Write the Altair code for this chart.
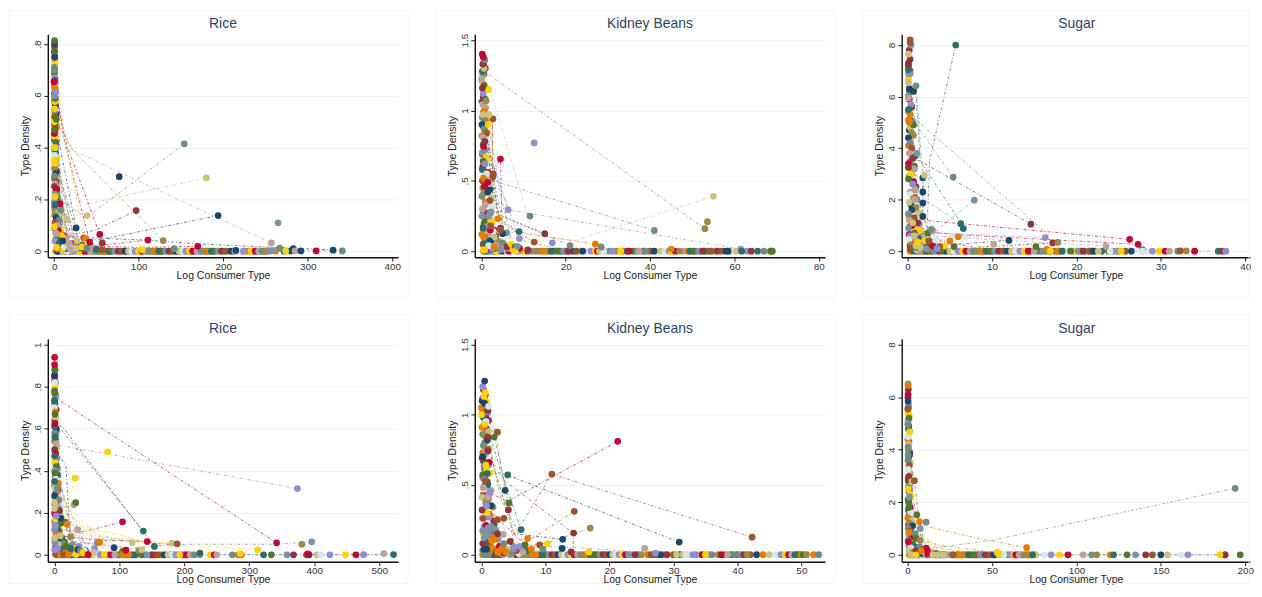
import altair as alt
import pandas as pd

PALETTE = ["#1a476f", "#90353b", "#55752f", "#e37e00", "#6e8e84", "#c10534", "#938dd2", "#cac27e",
           "#a0522d", "#7b92a8", "#2d6d66", "#9c8847", "#bfa19c", "#ffd200", "#d9e6eb"]
NAVY, MAROON, FOREST, ORANGE, TEAL, CRAN, LAV, KHAKI, SIENNA, BLUE, EMER, BROWN, EROSE, GOLD, PALE = range(15)

# ---- Rice, top ----
R1_COL_Y = [.79,.77,.74,.72,.69,.67,.66,.64,.62,.6,.58,.56,.54,.52,.5,.49,.47,.45,.44,.42,.4,.38,.37,.35,.33,.32,.3,.29,.27,.26,.25,.24,.22,.21,.2,.19,.18,.17,.16,.15,.14,.13,.12,.11,.1,.09,.08,.07,.06,.05,.04,.03,.02,.01,.03,.02,.04,.01,.02,.03]
R1_COL_X = [.5,.3,1,.6,.4,1.2,.8,.3,1.1,.6,.2,1.5,.7,.4,1.8,.5,.9,.3,1.2,2,.4,1.5,.6,.9,2.2,.3,1.6,.5,2.5,1,.4,3,1.3,.7,2,.4,3,1.5,.8,4,.5,2.5,6,1,3.5,.7,5,2,9,3,1,6,12,4,16,21,10,26,30,18]
R1_EX_Y = [.7,.68,.65,.63,.61,.59,.57,.55,.53,.51,.49,.48,.46,.43,.41,.39,.36,.34,.31,.28,.26,.23,.21,.19,.18,.16,.15,.13,.12,.1,.09,.08,.07,.06,.05,.05,.04,.04,.03,.03,.02,.02,.02,.01,.01,.01,.01,.02,.03,.01,.02,.01]
R1_EX_X = [.8,.2,1.5,.9,.4,2,1,.5,2.5,1.2,.6,3,1.6,.3,2.6,.9,3.2,1.5,2.8,.6,3.6,1.8,4,.9,3,5,1.5,3.8,2.4,5.5,1,7,3,11,5,14,8,2,12,18,6,23,3,15,28,34,10,31,24,38,44,20]
R1_BASE_X = [2,5,8,11,14,17,20,23,26,29,32,35,38,41,44,47,50,53,56,60,63,66,70,74,78,82,86,90,94,98,102,106,110,114,118,122,126,130,134,138,142,146,150,154,158,162,166,172,176,180,184,188,192,196,200,206,212,216,222,226,230,236,240,244,248,252,4,10,16,24,30,37,43,49,55,58,65,68,72,76,80,84,88,92,96,100,104,108,112,116,120,124,128,132,136,140,144,148,152,156,160,164,169,174,178,182,186,190,194,198,203,209,214,219,224,233,238,242,246,250,262,272]
R1_PTS = [(PALE,20,.01),(KHAKI,26,.012),(EROSE,19,.008),(FOREST,33,.025),(KHAKI,27,.04),(SIENNA,35,.052),(ORANGE,37,.05),(GOLD,33,.017),(GOLD,3,.015),(TEAL,39,.012),(EMER,50,.008),(SIENNA,57,.005),(CRAN,42,.035),(MAROON,57,.032),(CRAN,54,.065),(NAVY,26,.09),(KHAKI,39,.138),(KHAKI,15,.125),(TEAL,8,.158),(CRAN,7,.183),(EROSE,3,.068),(TEAL,.5,.17),(EMER,1,.18),(GOLD,.4,.094),(GOLD,1,.21),(GOLD,.5,.34),(GOLD,.4,.35),(GOLD,1,.4),(CRAN,.3,.455),(FOREST,.3,.47),(GOLD,.2,.5),(FOREST,2.6,.51),(GOLD,.5,.55),(GOLD,1,.578),(FOREST,1,.59),(BLUE,.4,.6),(LAV,2,.615),(ORANGE,.3,.64),(CRAN,-.3,.655),(BLUE,.4,.7),(TEAL,.3,.71),(GOLD,1.3,.74),(SIENNA,.5,.748),(NAVY,.8,.752),(FOREST,.6,.772),(NAVY,.5,.803),(FOREST,.5,.813),
 (TEAL,154,.415),(KHAKI,180,.283),(NAVY,77,.288),(MAROON,97,.157),(NAVY,194,.138),(BLUE,265,.11),(EROSE,257,.032),(BROWN,129,.041),(CRAN,111,.043),(CRAN,170,.019),(TEAL,142,.01),(GOLD,104,.006),(NAVY,215,.003),(NAVY,280,.001),(NAVY,283,.01),(TEAL,267,.012),(BLUE,256,.001),(BLUE,258,.002),(GOLD,274,.001),(EROSE,285,.001),(NAVY,292,.001),(CRAN,310,.001),(NAVY,330,.004),(TEAL,341,.001)]
R1_LINES = [(TEAL,[154,38,6],[.415,.13,.2]),(KHAKI,[180,36,4],[.283,.18,.3]),(MAROON,[97,48,12,2],[.157,.08,.06,.3]),(NAVY,[194,55,15],[.138,.045,.04]),(EROSE,[257,22,2],[.032,.39,.52]),(BROWN,[129,22,2],[.041,.39,.5]),(NAVY,[330,170,110,50,10],[.005,.028,.043,.05,.06]),(CRAN,[54,16,1],[.065,.4,.62]),(CRAN,[42,12,1],[.035,.43,.65]),(GOLD,[36,12,1.5],[.05,.45,.74]),(CRAN,[111,60,15],[.043,.025,.02]),(CRAN,[170,100,40],[.019,.015,.02]),(EMER,[30,8,1],[.03,.28,.56]),(LAV,[25,5,1],[.03,.3,.5]),(NAVY,[26,7,1],[.09,.4,.62]),(TEAL,[18,4,1],[.03,.25,.55]),(BLUE,[16,4,1],[.04,.35,.6]),(SIENNA,[24,6,1],[.05,.3,.45]),(FOREST,[20,5,1],[.02,.2,.51]),(EROSE,[15,3,1],[.07,.3,.4]),(ORANGE,[20,5,1],[.05,.2,.38]),(BROWN,[28,6,1],[.02,.22,.42]),(CRAN,[22,7,1],[.05,.2,.35]),(TEAL,[341,50],[.001,.002]),(GOLD,[14,5,1],[.02,.3,.6]),(KHAKI,[19,6,1],[.03,.15,.3]),(LAV,[12,4,1],[.02,.2,.44]),(BLUE,[28,9,2],[.02,.12,.25]),(EMER,[11,3,1],[.02,.4,.7])]

# ---- Kidney beans, top ----
K1_COL_Y = [1.33,1.3,1.25,1.22,1.18,1.12,1.08,1.04,1,.97,.93,.9,.87,.84,.81,.78,.74,.7,.67,.64,.62,.58,.55,.52,.48,.45,.42,.39,.36,.33,.3,.27,.25,.22,.2,.18,.16,.14,.12,.1,.09,.07,.06,.05,.04,.03,.02,.01,.05,.03,.02,.06,.04,.03]
K1_COL_X = [.5,.9,.3,.1,.6,.4,.9,.2,.7,.4,1,.1,.6,1.2,.3,.8,.5,.2,1.1,.4,.8,.2,1.2,.5,1.8,.3,1.5,.1,2,.9,.3,1.5,.1,2.2,.6,1.5,.4,2.8,.1,3,1,2,5,.4,3.5,6,1.2,4.5,7,8,2.5,.7,1.7,3]
K1_EX_Y = [1.26,1.2,1.15,1.1,1.06,1.02,.99,.95,.92,.89,.85,.82,.79,.76,.72,.69,.65,.63,.6,.56,.53,.5,.47,.44,.41,.38,.35,.32,.29,.26,.23,.21,.19,.17,.15,.13,.11,.1,.08,.07,.05,.04,.03,.02,.02,.01,.01,.03,.02,.01]
K1_EX_X = [.6,.2,.8,.4,.1,1,.5,.2,.9,.3,.7,.1,1.1,.4,.9,.2,1.3,.6,.3,1.5,.8,.2,1,2,.5,2.3,.9,2.6,.4,1.8,.9,2.5,1.2,.4,3,1.7,3.4,.8,2.4,4,1.5,.5,5.5,3,6.5,2,7.5,4,9,11]
K1_BASE_X = [.5,1,1.5,2,3,4,5,6,7.5,8.5,10,11,12.5,14,15.5,16,17,18,19,20,21,22,23.5,25,26,27,27.5,29.5,30.5,32,33.5,34.5,36,37,38.5,40,41,42.5,43.5,44.5,45,46,48,50,51,52,53,54,55.5,56,57,58,59,60,2.5,3.5,6.5,9,11.5,13,14.5,16.5,18.5,19.5,20.5,22.5,24,28,29,31,33,35,37.5,39,47,49,49.5,50.5,51.5,52.5,54.5,58.5,60.5,62.5,63]
K1_PTS = [(GOLD,.5,.01),(GOLD,.8,.01),(GOLD,8,.002),(BLUE,2,.27),(BLUE,1.7,.25),(BLUE,2.2,.28),(EROSE,.3,.3),(BLUE,6,.13),(BLUE,8.5,.035),(NAVY,5,.125),(MAROON,4.5,.165),(SIENNA,4.5,.15),(ORANGE,3.9,.23),(CRAN,2.1,.15),(SIENNA,2.2,.18),(ORANGE,.5,.1),(EMER,8.9,.14),(LAV,9,.09),(LAV,16.8,.06),(SIENNA,12.5,.065),(MAROON,15,.125),(ORANGE,27,.05),(TEAL,21,.04),(TEAL,28.4,.03),(ORANGE,45,.015),(LAV,61.5,.015),(LAV,6.3,.295),(TEAL,11.5,.25),(CRAN,1.5,.49),(CRAN,.7,.46),(SIENNA,2.8,.55),(SIENNA,2.7,.53),(CRAN,4.5,.655),(LAV,12.5,.77),(SIENNA,2.7,.94),(GOLD,1.6,.9),(KHAKI,1.8,.97),(EROSE,.4,1.04),(BROWN,1.1,1.07),(GOLD,1.7,1.15),(MAROON,.2,1.16),(EROSE,0,1.22),(EMER,.2,1.28),(KHAKI,.6,1.3),(MAROON,.3,1.33),(TEAL,.8,1.36),(CRAN,.4,1.38),(CRAN,.2,1.4),
 (TEAL,41,.148),(BROWN,53,.16),(BROWN,53.6,.21),(KHAKI,55,.39),(EMER,61.7,0),(EMER,65.5,0),(MAROON,64,0),(TEAL,67,0),(BROWN,68.5,0),(FOREST,69,0),(FOREST,68.7,0)]
K1_LINES = [(KHAKI,[55,22,3],[.39,.075,.15]),(BROWN,[53,2,.5],[.16,1.25,1.28]),(TEAL,[41,4,1],[.148,.49,.55]),(LAV,[61.5,6.3,2],[.015,.295,.68]),(KHAKI,[11.5,2,1],[.2,1.15,1.2]),(ORANGE,[27,8,2],[.05,.14,.17]),(TEAL,[21,4,1],[.04,.26,.9]),(MAROON,[15,4,1],[.125,.26,.6]),(SIENNA,[2.8,2.6,2.6],[.2,.94,.55]),(CRAN,[5,4.5,1.5],[.05,.655,.5]),(LAV,[9,4,1],[.09,.5,1]),(EMER,[9,3,1],[.14,.25,.9]),(GOLD,[4,2,1],[.1,.9,1.1]),(NAVY,[5,2,1],[.1,.6,1.05]),(FOREST,[6,3,1],[.05,.5,.95]),(BLUE,[7,2,.5],[.1,.7,1.2]),(BROWN,[68,20],[.001,.001]),(ORANGE,[18,6,1.5],[.02,.1,.2]),(SIENNA,[12.5,5,1],[.065,.2,.4])]

# ---- Sugar, top ----
S1_COL_Y = [7.8,7.2,6.9,6.4,6,5.7,5.5,5.3,5.1,4.8,4.6,4.4,4.2,4,3.8,3.6,3.4,3.2,3,2.8,2.6,2.4,2.2,2.05,1.9,1.7,1.6,1.45,1.3,1.2,1.1,1,.9,.8,.7,.6,.5,.45,.4,.3,.25,.2,.15,.1,.05,.3,.2,.1,.4,.15,.25,.1]
S1_COL_X = [.2,.1,.3,.2,.1,.4,.2,.5,.1,.3,.5,.1,.3,.5,.2,.6,.1,.8,.4,.1,.6,.9,.3,.7,.2,1,.5,.1,.8,.2,1.2,.5,.1,1.5,.8,.3,1.3,.2,1,1.7,.4,2.2,.7,.3,1.4,2.6,3,2.2,2,1,1.5,3.4]
S1_EX_Y = [7,6.7,6.3,5.9,5.6,5.4,5.2,5,4.7,4.5,4.3,4.1,3.9,3.7,3.5,3.3,3.1,2.9,2.7,2.5,2.3,2.1,2,1.8,1.65,1.5,1.35,1.25,1.15,1.05,.95,.85,.75,.65,.55,.5,.35,.3,.22,.18,.12,.08,.05,.15,.1,.06,.2,.12]
S1_EX_X = [.3,.1,.4,.2,.5,.1,.4,.6,.2,.7,.3,.1,.6,.9,.3,.8,.5,.2,.7,1,.3,.8,1.1,.4,.9,1.3,.2,1,.6,1.4,.3,1,1.6,.2,.6,1.9,.9,1.3,.3,1.9,.8,2.4,1.2,2.8,3.6,4,4.4,3]
S1_BASE_X = [.3,.7,1.1,1.5,2,2.5,3,3.4,3.9,4.3,4.8,5.2,5.8,6.2,6.7,7.1,7.6,8,8.5,9,9.5,10,10.5,11,11.5,12,12.5,13,13.5,14,14.5,15.2,15.7,16,16.8,17.5,18,18.5,19,19.6,20,20.5,21,21.4,21.8,22.2,23,23.8,24.3,25,25.8,26.5,27.8,28.3,29,29.8,30.5,31,32,1.3,1.8,2.2,2.8,3.2,3.7,4.1,4.6,5,5.5,6,6.5,6.9,7.4,7.8,8.3,8.8,9.3,9.8,10.3,10.8,11.3,11.8,12.3,12.8,13.3,13.8,14.3,15,16.3,17,17.8,18.3,19.3,20.2,20.8,21.6,22,22.6,24,24.8,25.3]
S1_PTS = [(KHAKI,.8,.6),(KHAKI,1,.2),(KHAKI,1.5,.16),(KHAKI,.6,1.1),(GOLD,1.2,.35),(SIENNA,2.5,.4),(FOREST,2.4,.7),(SIENNA,3.8,.18),(FOREST,5.5,.18),(LAV,3.5,.1),(PALE,3.4,.45),(PALE,5.4,.58),(PALE,6.9,.55),(ORANGE,5,.4),(ORANGE,6,.56),(EROSE,3,.78),(TEAL,2.8,.85),(NAVY,1.8,1.35),(NAVY,1.8,1.87),(NAVY,1.8,2.3),(NAVY,1.8,2.85),(KHAKI,2,2.95),(EROSE,.9,2.4),(EROSE,.9,2),(EROSE,.7,3.2),(MAROON,.1,3.25),(BLUE,1.1,3.8),(FOREST,.7,4.9),(ORANGE,.2,5),(ORANGE,.3,5.3),(EMER,.1,5.5),(EROSE,.1,5.95),(TEAL,.2,6.2),(NAVY,.7,6.2),(NAVY,.2,6.3),(TEAL,1,6.42),(KHAKI,.1,6.55),(LAV,.1,6.9),(EMER,.1,7.05),(MAROON,.1,7.3),(MAROON,.3,7.45),(KHAKI,.1,7.65),(BLUE,.4,8),(SIENNA,.3,8.1),(SIENNA,.3,8.2),
 (EMER,5.7,8),(TEAL,5.4,2.88),(BLUE,7.9,1.98),(EMER,6.3,1.07),(EMER,6.6,.88),(MAROON,14.6,1.05),(LAV,16.3,.53),(CRAN,26.3,.46),(CRAN,27.3,.27),(MAROON,17.2,.32),(BROWN,17.8,.34),(NAVY,12,.42),(EROSE,10.2,.28),(EROSE,23.5,.2),(FOREST,15.2,.18),(ORANGE,16.5,.07),(NAVY,27.8,.05),(GOLD,16.9,.01),(PALE,27.8,.01),(BROWN,33,.01),(CRAN,34,0),(SIENNA,32.3,.01),(EMER,36.8,0),(MAROON,37.3,0),(LAV,37.7,0)]
S1_LINES = [(EMER,[5.7,2.6,2.3],[8,3.5,.7]),(BROWN,[16.8,1,.4],[.6,5.1,5.3]),(MAROON,[14.6,1.5,.4],[1.05,3.5,3.6]),(TEAL,[5.4,1,.5],[2.88,4.9,5.8]),(EMER,[6.5,1.5,1],[1,3.5,6]),(TEAL,[6.3,2,1],[1.07,2,6.4]),(BLUE,[7.9,3,1],[1.98,.7,.6]),(CRAN,[26.3,2,.6],[.46,1.2,1.3]),(CRAN,[27.3,8,2],[.27,.6,.75]),(LAV,[16.3,4,1],[.53,.7,.8]),(EROSE,[23.5,10,3],[.2,.45,.6]),(NAVY,[12,5,1.5],[.42,.25,.4]),(MAROON,[17.2,8,2],[.32,.15,.5]),(NAVY,[1.8,1.8,1.8,1.8],[2.85,2.3,1.87,1.35]),(ORANGE,[5,2,.8],[.4,.5,1]),(FOREST,[3,1.2,.6],[.2,2,4.8]),(GOLD,[2,.9,.3],[.3,2,4.5]),(EROSE,[5,1.8,.7],[.3,1.4,3.1]),(SIENNA,[4,1.5,.4],[.2,1,4.3]),(LAV,[37.7,20],[.001,.001])]

# ---- Rice, bottom ----
R2_COL_Y = [.88,.85,.82,.8,.78,.75,.72,.7,.68,.65,.62,.6,.58,.55,.53,.5,.48,.46,.44,.42,.4,.38,.36,.34,.32,.3,.28,.26,.25,.23,.21,.2,.18,.17,.15,.14,.12,.11,.1,.09,.07,.06,.05,.04,.03,.02,.01,.05,.03,.02,.04,.03,.02,.01,.05]
R2_COL_X = [1,.5,2,1,.4,2,1,.3,1.5,2.4,.8,3,.5,1.8,3,.6,2,4,1,3,.5,5,2,6,1,4,.4,7,2,3,8,.5,5,2,10,1,6,.4,3,9,1,6,14,2,20,9,4,28,33,24,38,12,46,17,6]
R2_EX_Y = [.83,.79,.76,.73,.69,.66,.64,.59,.57,.54,.51,.49,.45,.43,.41,.37,.35,.33,.31,.29,.27,.24,.22,.19,.16,.13,.11,.09,.08,.07,.06,.05,.04,.04,.03,.03,.02,.02,.02,.01,.01,.01,.01,.02,.03]
R2_EX_X = [.5,1.2,2.5,.6,3,1.5,.8,3.5,1.5,.5,4,1,.6,2.5,5,1.2,3,.5,5.5,1.6,3.6,.7,6,1.6,.6,4,8,2,12,5,16,8,20,3,13,28,7,18,32,9,26,42,55,48,62]
R2_BASE_X = [3,8,13,18,25,30,36,42,50,56,62,68,74,80,84,90,96,100,106,112,118,122,128,132,140,146,150,156,162,166,172,178,184,190,196,200,206,212,218,224,240,246,250,274,283,288,322,334,358,368,388,392,404,410,424,448,464,476,5,10,15,22,27,33,39,45,53,59,65,71,77,87,93,103,109,115,125,135,143,153,159,169,175,181,187,193,203,209,215]
R2_PTS = [(SIENNA,2,.003),(ORANGE,10,.001),(SIENNA,14,.001),(ORANGE,22,.002),(GOLD,34,.003),(NAVY,36,.025),(FOREST,18,.04),(EMER,25,.03),(TEAL,40,.02),(GOLD,44,.01),(BLUE,66,.058),(BROWN,68,.06),(ORANGE,70,.06),(KHAKI,60,.01),(NAVY,92,.034),(FOREST,105,.016),(ORANGE,105,.002),(CRAN,110,.022),(BROWN,130,.02),(KHAKI,135,.025),(CRAN,52,.001),(LAV,5,.03),(LAV,3,.025),(LAV,.5,.025),(BLUE,1,.06),(KHAKI,.5,.08),(BLUE,.5,.12),(LAV,1.5,.135),(FOREST,17,.155),(ORANGE,20,.145),(NAVY,10,.175),(LAV,3,.185),(BROWN,25,.085),(EROSE,36,.12),(TEAL,5,.32),(EROSE,30,.238),(FOREST,33,.248),(GOLD,32,.365),(KHAKI,.5,.22),(KHAKI,.5,.25),(EMER,.5,.47),(FOREST,1,.39),(EMER,.4,.35),(EMER,1,.56),(EMER,.5,.61),(CRAN,1,.625),(FOREST,1,.67),(EMER,.3,.735),(FOREST,.5,.77),(PALE,.5,.82),(NAVY,.5,.855),(FOREST,1,.88),(CRAN,.5,.905),(CRAN,.5,.94),
 (GOLD,82,.49),(LAV,374,.315),(CRAN,105,.157),(EMER,137,.113),(CRAN,143,.063),(EMER,154,.04),(KHAKI,120,.058),(KHAKI,181,.055),(SIENNA,189,.052),(CRAN,342,.057),(BROWN,381,.05),(BLUE,396,.062),(GOLD,313,.024),(GOLD,286,.006),(CRAN,390,.004),(EMER,224,.008),(EROSE,507,.006),(EMER,522,.001),(LAV,476,.001)]
R2_LINES = [(CRAN,[342,10,2],[.057,.73,.76]),(LAV,[374,82,8],[.315,.48,.52]),(EMER,[137,15,2],[.113,.58,.62]),(CRAN,[154,15,2],[.04,.6,.63]),(GOLD,[313,150,40],[.024,.055,.14]),(BLUE,[396,342,180,60],[.062,.05,.05,.08]),(CRAN,[105,45,10],[.157,.11,.12]),(NAVY,[25,18,3],[.03,.42,.5]),(GOLD,[32,10,2],[.365,.1,.5]),(EROSE,[30,12,2],[.04,.3,.6]),(KHAKI,[120,50,12],[.058,.11,.16]),(CRAN,[143,70,10],[.063,.07,.09]),(GOLD,[181,90,20],[.055,.08,.11]),(KHAKI,[90,30,5],[.03,.2,.3]),(BROWN,[50,18,3],[.03,.25,.4]),(TEAL,[40,12,2],[.02,.2,.45]),(FOREST,[35,10,1],[.02,.2,.35]),(ORANGE,[60,20,3],[.03,.12,.2]),(SIENNA,[189,120,40],[.052,.03,.06]),(EROSE,[45,15,3],[.05,.22,.55]),(EMER,[522,60],[.001,.001]),(LAV,[48,14,2],[.03,.17,.5]),(BLUE,[70,25,4],[.02,.15,.4]),(GOLD,[75,22,3],[.03,.2,.28])]

# ---- Kidney beans, bottom ----
K2_COL_Y = [1.18,1.14,1.12,1.09,1.05,1.02,.98,.95,.91,.88,.85,.82,.78,.75,.72,.69,.66,.63,.6,.57,.54,.5,.47,.44,.41,.38,.35,.32,.29,.26,.24,.21,.18,.15,.13,.11,.09,.07,.05,.04,.03,.02,.01,.03,.02,.01,.06,.04]
K2_COL_X = [.3,.6,.2,.8,.5,1,.3,.7,.1,1.1,.5,.9,.3,1,.6,.1,1.2,.4,.8,.2,.6,1,.3,1.3,.1,.7,1.5,.3,1.1,.1,1.9,.7,2.2,.3,1.4,2.6,.5,3.2,1.6,4,.2,2.4,4.8,5.5,6.5,3.5,2.8,5]
K2_EX_Y = [1.1,1.07,1.03,1,.96,.93,.9,.86,.83,.8,.76,.73,.7,.67,.64,.61,.58,.55,.52,.49,.46,.43,.4,.37,.34,.31,.28,.25,.22,.2,.17,.14,.12,.1,.08,.06,.05,.04,.03,.02,.02,.01,.01,.03,.05]
K2_EX_X = [.5,.9,.2,.7,1.1,.4,.8,.2,1,.5,1.2,.2,.7,.3,1.1,.5,1.3,.2,.9,.5,1.5,.3,1.1,.7,1.8,.5,1.4,.8,2,.4,1.7,1,2.4,.6,1.3,2.9,.9,2.1,3.4,1.3,4.2,2.9,5.8,7,6]
K2_BASE_X = [.2,.5,1,1.5,2,2.5,3,3.5,4,4.5,5,5.5,6,7,7.5,8,9,10,10.5,11,11.5,12,12.5,13,13.5,14,14.5,15,15.5,16,16.5,17,18,18.5,19,19.5,20,20.5,21,21.5,22,22.5,23.5,24.5,25,26,27,27.5,28.5,29,30,31,31.5,32.5,33,34,34.5,35.5,36,37,38,39,40,40.5,41,42,43,45,46,46.8,47.5,48,48.5,49.3,6.5,8.5,9.5,17.5,23,24,26.5,28,30.5,32,33.5,35,37.5,38.5,39.5,41.5,44,49,49.7]
K2_PTS = [(BLUE,.5,.0),(TEAL,.4,.0),(NAVY,.4,.04),(NAVY,.8,.04),(ORANGE,2.5,.02),(ORANGE,3.3,.05),(ORANGE,2.8,.03),(ORANGE,3.8,.02),(MAROON,.2,.08),(BLUE,.8,.15),(BLUE,1.2,.17),(BLUE,1,.19),(BLUE,1.5,.2),(BLUE,.4,.12),(BLUE,1.3,.13),(BLUE,.2,.17),(ORANGE,1.6,.1),(ORANGE,1.8,.12),(ORANGE,2.2,.11),(LAV,5,.06),(LAV,6,.06),(TEAL,3.5,.08),(EROSE,3.4,.145),(MAROON,2.5,.15),(SIENNA,2.5,.25),(SIENNA,.3,.26),(LAV,1.2,.27),(GOLD,.9,.3),(MAROON,.1,.32),(LAV,.8,.35),(EROSE,1,.41),(LAV,1.3,.45),(EROSE,.3,.48),(SIENNA,.6,.53),(EMER,.9,.58),(GOLD,.7,.64),(NAVY,.2,.7),(MAROON,1,.74),(GOLD,.5,.93),(MAROON,1,.84),(GOLD,0,1),(ORANGE,0,1.05),(MAROON,1,1.03),(NAVY,.5,1.08),(NAVY,.1,1.1),(PALE,1.1,1.06),(GOLD,.4,1.13),(GOLD,.6,1.16),(LAV,.2,1.2),(NAVY,.5,1.24),
 (SIENNA,2.5,.875),(FOREST,2,.84),(CRAN,21.3,.81),(SIENNA,11,.575),(EMER,4.1,.57),(NAVY,3.7,.46),(FOREST,4.3,.37),(MAROON,4.2,.32),(SIENNA,14.5,.31),(SIENNA,3.5,.26),(BROWN,17,.19),(MAROON,14.4,.155),(EMER,6.2,.18),(ORANGE,7.2,.115),(NAVY,12.7,.11),(NAVY,12.6,.045),(MAROON,4.5,.095),(FOREST,6.8,.07),(SIENNA,9.1,.07),(NAVY,30.9,.09),(SIENNA,42.3,.125),(EROSE,25.5,.045),(GOLD,10.3,.08),(TEAL,9.6,.04),(ORANGE,7.8,.04),(GOLD,16.8,.02),(LAV,27.2,.012),(MAROON,14,.02),(ORANGE,50,0),(ORANGE,51.9,0),(FOREST,50.3,0),(BROWN,50.8,0),(TEAL,52.7,0)]
K2_LINES = [(CRAN,[21.3,4,1],[.81,.38,.45]),(SIENNA,[42.3,11,6,3],[.125,.575,.2,.05]),(NAVY,[30.9,4,1.5],[.09,.57,.6]),(SIENNA,[14.5,6,2],[.31,.06,.1]),(BROWN,[17,10,4],[.19,.08,.06]),(LAV,[27.2,15,5],[.012,.05,.07]),(EMER,[6.2,3,1],[.18,.6,.9]),(FOREST,[4.3,2,1],[.37,.85,1]),(NAVY,[12.7,5,1.5],[.11,.15,.7]),(MAROON,[14.4,14.3,3],[.02,.155,.55]),(BROWN,[5,2.2,1],[.1,.87,1.05]),(KHAKI,[6,2,.5],[.05,.6,1]),(TEAL,[7,3,1],[.05,.4,.85]),(EROSE,[5,2,.5],[.08,.3,.5]),(GOLD,[6,1.8,.6],[.03,.6,.93]),(CRAN,[8,1.6,.3],[.02,.3,.6]),(TEAL,[52.7,20],[.001,.001])]

# ---- Sugar, bottom ----
S2_COL_Y = [6.3,6,5.7,5.4,5.2,5,4.8,4.6,4.4,4.2,4,3.8,3.6,3.4,3.1,2.9,2.7,2.6,2.3,2.1,1.9,1.7,1.6,1.4,1.3,1.2,1.1,1,.9,.8,.7,.65,.55,.45,.4,.35,.3,.25,.2,.15,.1,.05,.3,.2,.1,.15,.05]
S2_COL_X = [.4,.2,.6,.3,.8,.2,.5,.9,.2,.7,.4,1.2,.3,1,1.6,.4,1.2,.6,1.5,.3,1,.5,1.8,.2,2.5,1.2,3,.4,1.5,.6,2.6,4,.3,1.5,3,.8,4.5,2,6,.7,3.5,8,7,9,10,5,12]
S2_EX_Y = [5.6,5.3,5.1,4.9,4.7,4.5,4.3,4.1,3.9,3.7,3.5,3.3,3,2.8,2.5,2.4,2.2,2,1.8,1.5,1.35,1.15,.95,.75,.6,.5,.4,.3,.22,.18,.12,.08,.05,.25,.15,.1,.05]
S2_EX_X = [.5,1,.3,.7,1.1,.3,.8,.4,1.2,.6,1.6,.4,1,.5,1.4,.8,2,.6,1.6,.9,2.2,.5,1.8,1,3.2,1.6,2.2,.6,5,1.4,4,8,2.6,11,6,14,17]
S2_BASE_X = [1,2,3,4,5,6,7,8,9,10,11,12,13,14,15,16,17,18,19,20,21,22,24,25,27,28,30,32,33,34,35,37,38,40,41,42,44,45,47,48,50,52,56,59,60,62,65,67,68,71,72,75,76,81,85,90,95,104,109,112,120,122,130,135,141,145,150,154,162,166,185,188,23,26,29,31,36,39,43,46,49,51,54,57,61,63,64,66,69,70,73,74]
S2_PTS = [(KHAKI,2,0),(GOLD,5,0),(KHAKI,15,0),(KHAKI,18,0),(KHAKI,21,0),(SIENNA,27,0),(CRAN,.5,.5),(ORANGE,1,.85),(FOREST,.7,1.8),(FOREST,.7,2),(BLUE,1,2.2),(GOLD,.3,2.5),(TEAL,4.5,.8),(FOREST,5,.62),(BROWN,7.5,.55),(CRAN,11.5,.2),(ORANGE,8,.15),(BLUE,7.5,1),(MAROON,.7,2.97),(PALE,.3,3.25),(KHAKI,2.5,2.78),(SIENNA,4,2.82),(TEAL,.3,3.8),(TEAL,.3,4.1),(PALE,.3,4.5),(GOLD,1.2,4.68),(TEAL,.3,4.95),(SIENNA,.1,5.55),(NAVY,.3,5.85),(CRAN,.3,6.1),(BLUE,.3,6.5),(ORANGE,.3,6.45),
 (TEAL,194,2.53),(ORANGE,70.5,.27),(TEAL,11,1.24),(FOREST,5.5,1.52),(ORANGE,7,1.26),(GOLD,53,.1),(GOLD,54,.05),(MAROON,188,0),(FOREST,197,0),(GOLD,185,0)]
S2_LINES = [(TEAL,[194,50,8],[2.53,.55,.2]),(ORANGE,[70.5,40,10],[.27,.65,1.1]),(BROWN,[50,20,7],[.1,.35,.55]),(GOLD,[45,18,5],[.05,.25,.8]),(GOLD,[35,15,4],[.08,.3,1.3]),(KHAKI,[25,8,3],[.1,.7,1.5]),(FOREST,[12,5,1.5],[.1,1.52,3]),(SIENNA,[9,4,1],[.1,2.82,3.5]),(GOLD,[5,2,1],[.1,2,4.5]),(BLUE,[7.5,2,.5],[1,2,5]),(EROSE,[10,3,1],[.1,1.5,3.6]),(MAROON,[188,30],[.001,.001])]

PANELS = [
 ("Rice", R1_COL_X, R1_COL_Y, R1_EX_X, R1_EX_Y, R1_BASE_X, R1_PTS, R1_LINES, (-7.5,407), (-.023,.838), [0,100,200,300,400], [0,.2,.4,.6,.8], 352),
 ("Kidney Beans", K1_COL_X, K1_COL_Y, K1_EX_X, K1_EX_Y, K1_BASE_X, K1_PTS, K1_LINES, (-1.6,81.5), (-.0425,1.542), [0,20,40,60,80], [0,.5,1,1.5], 352),
 ("Sugar", S1_COL_X, S1_COL_Y, S1_EX_X, S1_EX_Y, S1_BASE_X, S1_PTS, S1_LINES, (-.7,40.56), (-.232,8.42), [0,10,20,30,40], [0,2,4,6,8], 350),
 ("Rice", R2_COL_X, R2_COL_Y, R2_EX_X, R2_EX_Y, R2_BASE_X, R2_PTS, R2_LINES, (-10,529), (-.033,1.028), [0,100,200,300,400,500], [0,.2,.4,.6,.8,1], 352),
 ("Kidney Beans", K2_COL_X, K2_COL_Y, K2_EX_X, K2_EX_Y, K2_BASE_X, K2_PTS, K2_LINES, (-1.05,53.7), (-.05,1.542), [0,10,20,30,40,50], [0,.5,1,1.5], 352),
 ("Sugar", S2_COL_X, S2_COL_Y, S2_EX_X, S2_EX_Y, S2_BASE_X, S2_PTS, S2_LINES, (-3.5,202.8), (-.265,8.22), [0,50,100,150,200], [0,2,4,6,8], 350),
]

FONT = "Liberation Sans"
NAMES = [f"c{i:02d}" for i in range(15)]
COLOR = dict(scale=alt.Scale(domain=NAMES, range=PALETTE), legend=None)
LABEL = "replace(format(datum.value, '~g'), /^0\\./, '.')"
H = 224

def panel(p, frame_right, frame_bottom):
    title, cx, cy, ex, ey, bx, pts, lines, xd, yd, xt, yt, w = p
    rows = []
    for i, x in enumerate(bx):
        rows.append({"x": x, "y": 0, "c": NAMES[(i * 7 + 3) % 15]})
    for i, (x, y) in enumerate(zip(ex, ey)):
        rows.append({"x": x, "y": y, "c": NAMES[(i * 11 + 2) % 15]})
    for i, (x, y) in enumerate(zip(cx, cy)):
        rows.append({"x": x, "y": y, "c": NAMES[(i * 4 + 1) % 15]})
    for c, x, y in pts:
        rows.append({"x": x, "y": y, "c": NAMES[c]})
    lrows = []
    for s, (c, xs, ys) in enumerate(lines):
        for k, (x, y) in enumerate(zip(xs, ys)):
            lrows.append({"x": x, "y": y, "c": NAMES[c], "s": s, "k": k})
    xe = alt.X("x:Q", scale=alt.Scale(domain=list(xd), nice=False, zero=False),
               axis=alt.Axis(values=xt, title="Log Consumer Type", grid=False, format="d",
                             titlePadding=-1, labelPadding=0))
    ye = alt.Y("y:Q", scale=alt.Scale(domain=list(yd), nice=False, zero=False),
               axis=alt.Axis(values=yt, title="Type Density", grid=True, labelExpr=LABEL, labelAngle=270,
                             labelAlign="center", labelBaseline="bottom", labelPadding=1, titlePadding=2))
    frame = alt.Chart(pd.DataFrame({"a": [0]})).mark_rect(filled=False, stroke="#f3f5f5", strokeWidth=1).encode(
        x=alt.value(-39), x2=alt.value(frame_right), y=alt.value(-24), y2=alt.value(frame_bottom))
    head = alt.Chart(pd.DataFrame({"t": [title]})).mark_text(
        font=FONT, fontSize=14, color="#2f3f66", align="center", baseline="alphabetic").encode(
        x=alt.value(176), y=alt.value(-6), text="t:N")
    ln = alt.Chart(pd.DataFrame(lrows)).mark_line(strokeWidth=0.9, strokeDash=[3, 2, 1, 2], opacity=0.75).encode(
        x=xe, y=ye, color=alt.Color("c:N", **COLOR), detail="s:N", order="k:Q")
    pt = alt.Chart(pd.DataFrame(rows)).mark_circle(size=46, opacity=1).encode(
        x=xe, y=ye, color=alt.Color("c:N", **COLOR))
    return alt.layer(frame, head, ln, pt).properties(width=w, height=H)

rights = [362, 362, 349]
cells = [panel(PANELS[i], rights[i % 3], 264 if i < 3 else 246) for i in range(6)]
chart = alt.concat(*cells, columns=3, spacing=alt.RowColnumber(row=82, column=77), bounds="flush").properties(
    padding=0).configure_view(stroke=None).configure_axis(
    labelFont=FONT, titleFont=FONT, labelFontSize=10, titleFontSize=10.5, titleFontWeight="normal",
    labelColor="#333333", titleColor="#222222", domainColor="#111111", domainWidth=1.4, tickColor="#222222",
    tickSize=4, tickWidth=1, gridColor="#eaf2f3", gridWidth=1
)

chart.save("out.html", embed_options={"renderer": "svg", "actions": False})
